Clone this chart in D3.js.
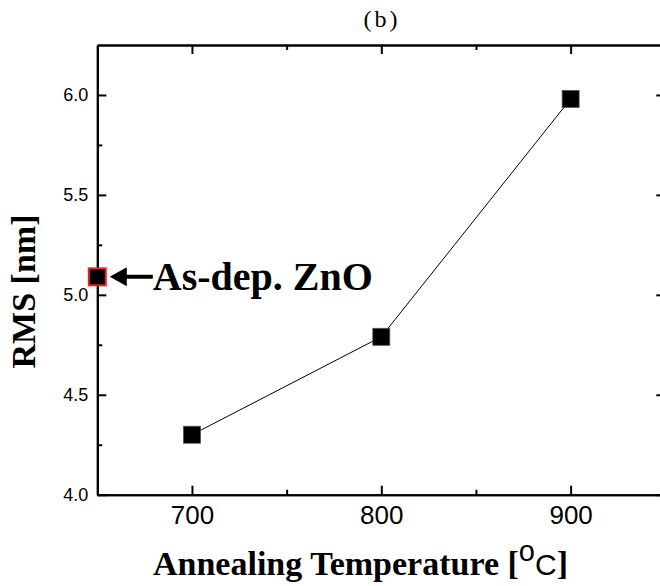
<!DOCTYPE html>
<html>
<head>
<meta charset="utf-8">
<script src="https://cdn.jsdelivr.net/npm/d3@7"></script>
<style>
  html, body { margin: 0; padding: 0; background: #fff; }
  svg { display: block; }
</style>
</head>
<body>
<svg id="chart" width="660" height="586"></svg>
<script>
// Annealed samples: surface roughness versus annealing temperature
const temperatures = [700, 800, 900];
const rmsValues = [4.30, 4.79, 5.98];

// As-deposited reference sample
const asDepTemperature = [650];
const asDepRms = [5.09];
const asDepLabel = "As-dep. ZnO";

// Axis ticks
const xMajorTicks = [700, 800, 900];
const xMinorTicks = [750, 850];
const xTickLabels = ["700", "800", "900"];
const yMajorTicks = [4.0, 4.5, 5.0, 5.5, 6.0];
const yMinorTicks = [4.25, 4.75, 5.25, 5.75];
const yTickLabels = ["4.0", "4.5", "5.0", "5.5", "6.0"];

const titleText = "(b)";
const yTitle = "RMS [nm]";

const svg = d3.select("#chart");
const W = 660, H = 586;
const m = { left: 97.3, top: 45, right: -5.3, bottom: 91.3 };
const plotW = W - m.left - m.right;
const plotH = H - m.top - m.bottom;

const x = d3.scaleLinear().domain([650, 950]).range([0, plotW]);
const y = d3.scaleLinear().domain([4.0, 6.25]).range([plotH, 0]);

const SANS = "'Liberation Sans', Arial, sans-serif";
const SERIF = "'Liberation Serif', 'Times New Roman', serif";

const g = svg.append("g").attr("transform", `translate(${m.left},${m.top})`);

function styleAxis(sel, fontSize) {
  sel.select(".domain").attr("stroke", "#000").attr("stroke-width", 2);
  sel.selectAll(".tick line").attr("stroke", "#000").attr("stroke-width", 2);
  sel.selectAll(".tick text")
    .attr("fill", "#000")
    .style("font-family", SANS)
    .style("font-size", fontSize + "px");
}

// Bottom axis (major + minor, ticks pointing inward)
const xBottom = g.append("g").attr("transform", `translate(0,${plotH})`)
  .call(d3.axisBottom(x).tickValues(xMajorTicks)
    .tickFormat((d, i) => xTickLabels[i]).tickSizeInner(-9).tickSizeOuter(0).tickPadding(11));
styleAxis(xBottom, 26);
const xBottomMinor = g.append("g").attr("transform", `translate(0,${plotH})`)
  .call(d3.axisBottom(x).tickValues(xMinorTicks).tickFormat("").tickSizeInner(-5).tickSizeOuter(0));
styleAxis(xBottomMinor, 10);

// Top axis
const xTop = g.append("g")
  .call(d3.axisTop(x).tickValues(xMajorTicks).tickFormat("").tickSizeInner(-9).tickSizeOuter(0));
styleAxis(xTop, 10);
const xTopMinor = g.append("g")
  .call(d3.axisTop(x).tickValues(xMinorTicks).tickFormat("").tickSizeInner(-5).tickSizeOuter(0));
styleAxis(xTopMinor, 10);

// Left axis
const yLeft = g.append("g")
  .call(d3.axisLeft(y).tickValues(yMajorTicks)
    .tickFormat((d, i) => yTickLabels[i]).tickSizeInner(-9).tickSizeOuter(0).tickPadding(9));
styleAxis(yLeft, 18);
const yLeftMinor = g.append("g")
  .call(d3.axisLeft(y).tickValues(yMinorTicks).tickFormat("").tickSizeInner(-5).tickSizeOuter(0));
styleAxis(yLeftMinor, 10);

// Right axis
const yRight = g.append("g").attr("transform", `translate(${plotW},0)`)
  .call(d3.axisRight(y).tickValues(yMajorTicks).tickFormat("").tickSizeInner(-9).tickSizeOuter(0));
styleAxis(yRight, 10);
const yRightMinor = g.append("g").attr("transform", `translate(${plotW},0)`)
  .call(d3.axisRight(y).tickValues(yMinorTicks).tickFormat("").tickSizeInner(-5).tickSizeOuter(0));
styleAxis(yRightMinor, 10);

// Connecting line
const points = temperatures.map((t, i) => ({ t, v: rmsValues[i] }));
g.append("path")
  .datum(points)
  .attr("fill", "none")
  .attr("stroke", "#000")
  .attr("stroke-width", 1)
  .attr("d", d3.line().x(d => x(d.t)).y(d => y(d.v)));

// Square markers
const S = 17;
g.selectAll("rect.pt")
  .data(points)
  .join("rect")
  .attr("class", "pt")
  .attr("x", d => x(d.t) - S / 2)
  .attr("y", d => y(d.v) - S / 2)
  .attr("width", S)
  .attr("height", S)
  .attr("fill", "#000")
  .attr("stroke", "#555")
  .attr("stroke-width", 0.8);

// As-deposited marker with red outline
const asDep = asDepTemperature.map((t, i) => ({ t, v: asDepRms[i] }));
g.selectAll("rect.asdep")
  .data(asDep)
  .join("rect")
  .attr("class", "asdep")
  .attr("x", d => x(d.t) - 8.5)
  .attr("y", d => y(d.v) - 8.5)
  .attr("width", 17)
  .attr("height", 17)
  .attr("fill", "#000")
  .attr("stroke", "#e8231f")
  .attr("stroke-width", 2);

// Arrow pointing at the as-deposited marker
asDep.forEach(d => {
  const tipX = x(d.t) + 12.5, cy = y(d.v);
  const headLen = 17, headHalf = 9.5, shaftEnd = tipX + 43, shaftHalf = 2;
  g.append("path")
    .attr("d", `M${tipX},${cy} L${tipX + headLen},${cy - headHalf} L${tipX + headLen},${cy - shaftHalf}
                L${shaftEnd},${cy - shaftHalf} L${shaftEnd},${cy + shaftHalf} L${tipX + headLen},${cy + shaftHalf}
                L${tipX + headLen},${cy + headHalf} Z`)
    .attr("fill", "#000");
  g.append("text")
    .attr("x", shaftEnd)
    .attr("y", cy + 13)
    .style("font-family", SERIF)
    .style("font-weight", "bold")
    .style("font-size", "40px")
    .attr("fill", "#000")
    .text(asDepLabel);
});

// Title
svg.append("text")
  .attr("x", 382)
  .attr("y", 27)
  .attr("text-anchor", "middle")
  .style("font-family", SERIF)
  .style("font-size", "24px")
  .style("letter-spacing", "3px")
  .attr("fill", "#000")
  .text(titleText);

// X axis title with degree sign built from a raised "o"
const xt = svg.append("text")
  .attr("x", 153)
  .attr("y", 575)
  .attr("fill", "#000");
xt.append("tspan")
  .style("font-family", SERIF).style("font-weight", "bold").style("font-size", "34px")
  .text("Annealing Temperature [");
xt.append("tspan")
  .style("font-family", SANS).style("font-size", "29px")
  .attr("dy", -14)
  .text("o");
xt.append("tspan")
  .style("font-family", SANS).style("font-size", "30px")
  .attr("dy", 14)
  .text("C");
xt.append("tspan")
  .style("font-family", SERIF).style("font-weight", "bold").style("font-size", "34px")
  .text("]");

// Y axis title
svg.append("text")
  .attr("transform", "translate(35,291.5) rotate(-90)")
  .attr("text-anchor", "middle")
  .style("font-family", SERIF)
  .style("font-weight", "bold")
  .style("font-size", "34px")
  .attr("fill", "#000")
  .text(yTitle);
</script>
</body>
</html>
